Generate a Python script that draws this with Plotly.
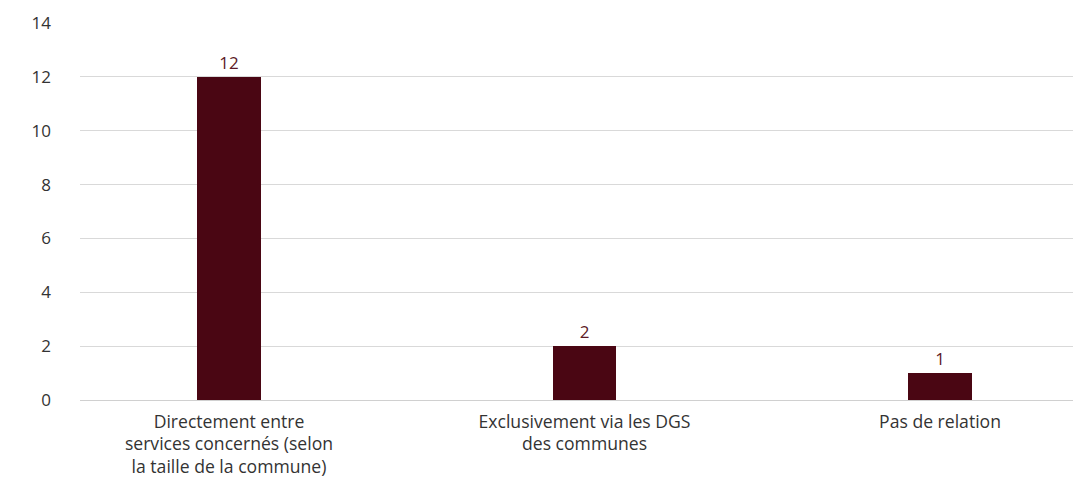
import plotly.graph_objects as go

categories = [
    "Directement entre<br>services concernés (selon<br>la taille de la commune)",
    "Exclusivement via les DGS<br>des communes",
    "Pas de relation",
]
values = [12, 2, 1]
y_ticks = [0, 2, 4, 6, 8, 10, 12, 14]

bar_color = "#4a0613"
label_color = "#5c1a26"
text_color = "#333333"
font_family = "'Open Sans', Lato, sans-serif"

fig = go.Figure(
    go.Bar(
        x=list(range(len(categories))),
        y=values,
        width=0.178,
        marker=dict(color=bar_color, line=dict(width=0)),
        text=[str(v) for v in values],
        textposition="outside",
        cliponaxis=False,
        textfont=dict(color=label_color, size=17, family=font_family),
    )
)

fig.update_layout(
    width=1073,
    height=487,
    margin=dict(l=80, r=0, t=23, b=87),
    plot_bgcolor="white",
    paper_bgcolor="white",
    showlegend=False,
    font=dict(family=font_family, size=17, color=text_color),
    xaxis=dict(
        tickmode="array",
        tickvals=list(range(len(categories))),
        ticktext=categories,
        range=[-0.419, 2.374],
        showgrid=False,
        zeroline=False,
        showline=False,
        ticks="",
        ticklabelstandoff=9,
        tickfont=dict(size=17.6, color=text_color),
    ),
    yaxis=dict(
        range=[0, 14],
        tickvals=y_ticks,
        showgrid=True,
        gridcolor="#d9d9d9",
        gridwidth=1,
        zeroline=True,
        zerolinecolor="#d0d0d0",
        zerolinewidth=1,
        showline=False,
        ticks="",
        ticklabelstandoff=28,
        tickfont=dict(size=17, color=text_color),
    ),
    bargap=0,
)

fig.write_html("out.html")
